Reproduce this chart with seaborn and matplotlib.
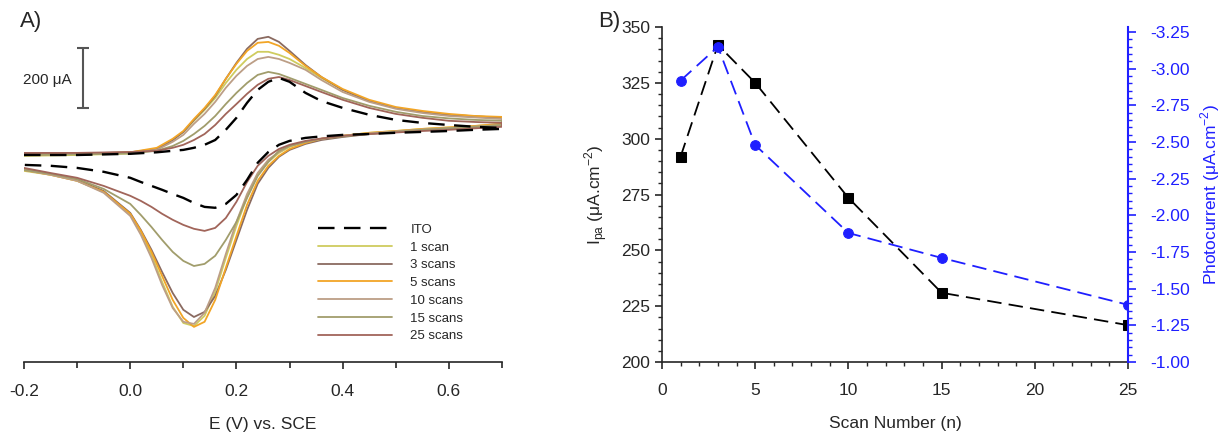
import numpy as np
import pandas as pd
import matplotlib
matplotlib.use("Agg")
import matplotlib.pyplot as plt
from matplotlib.ticker import MultipleLocator, FormatStrFormatter
import seaborn as sns

sns.set_style("ticks")
plt.rcParams['font.family'] = ['Liberation Sans', 'DejaVu Sans']
plt.rcParams['mathtext.fontset'] = 'custom'
plt.rcParams['mathtext.rm'] = 'Liberation Sans'
plt.rcParams['axes.unicode_minus'] = False

# ---- A) cyclic voltammograms, potential (V) and current (uA, arbitrary zero)
e_fwd = [-0.2, -0.1, 0.0, 0.05, 0.08, 0.1, 0.12, 0.14, 0.16, 0.18, 0.2, 0.22, 0.24,
         0.26, 0.28, 0.30, 0.33, 0.36, 0.4, 0.45, 0.5, 0.55, 0.6, 0.65, 0.7]
e_rev = [0.7, 0.65, 0.6, 0.55, 0.5, 0.45, 0.4, 0.36, 0.33, 0.30, 0.28, 0.26, 0.24, 0.22,
         0.20, 0.18, 0.16, 0.14, 0.12, 0.10, 0.08, 0.06, 0.04, 0.02, 0.0, -0.05, -0.1, -0.15, -0.2]

ito_fwd = [-17, -17, -13, -8, -3, 0, 7, 17, 33, 67, 107, 157, 200, 227, 240, 227, 190, 163,
           140, 117, 100, 90, 83, 77, 73]
ito_rev = [70, 67, 63, 60, 57, 53, 50, 45, 40, 30, 17, -7, -43, -100, -150, -180, -193, -190,
           -177, -160, -147, -133, -120, -107, -93, -73, -60, -53, -50]
scan1_fwd = [-20, -17, -12, 3, 33, 60, 97, 133, 173, 223, 267, 303, 327, 327, 317, 303, 273,
             240, 200, 163, 140, 127, 117, 112, 107]
scan1_rev = [87, 80, 75, 70, 63, 57, 47, 37, 27, 10, -10, -40, -83, -157, -253, -360, -473,
             -553, -587, -577, -523, -440, -350, -273, -213, -140, -103, -83, -70]
scan3_fwd = [-13, -12, -8, 3, 33, 60, 100, 137, 180, 237, 290, 337, 370, 377, 360, 330, 283,
             243, 200, 163, 140, 127, 117, 112, 107]
scan3_rev = [83, 77, 72, 67, 60, 53, 43, 33, 20, 0, -23, -60, -113, -200, -300, -400, -487,
             -540, -557, -533, -477, -407, -333, -267, -210, -137, -100, -80, -63]
scan5_fwd = [-17, -13, -8, 7, 37, 63, 103, 140, 183, 237, 287, 330, 357, 360, 347, 323, 280,
             243, 203, 167, 143, 130, 120, 113, 110]
scan5_rev = [87, 80, 75, 70, 63, 57, 47, 37, 23, 3, -20, -53, -103, -183, -287, -393, -500,
             -573, -590, -560, -500, -420, -340, -270, -213, -140, -103, -83, -67]
scan10_fwd = [-17, -13, -10, 0, 27, 50, 87, 120, 160, 207, 247, 280, 303, 310, 303, 290, 267,
              233, 193, 160, 137, 123, 113, 108, 103]
scan10_rev = [83, 78, 73, 68, 62, 55, 47, 37, 27, 13, -7, -33, -77, -147, -240, -347, -460,
              -543, -580, -573, -527, -450, -360, -283, -220, -143, -103, -83, -67]
scan15_fwd = [-17, -15, -12, -3, 13, 30, 53, 80, 113, 153, 190, 223, 250, 260, 253, 240, 220,
              200, 173, 147, 127, 113, 105, 100, 97]
scan15_rev = [83, 77, 72, 67, 60, 53, 45, 37, 27, 13, -3, -40, -87, -160, -240, -300, -353,
              -380, -387, -370, -340, -300, -257, -217, -180, -130, -97, -80, -67]
scan25_fwd = [-10, -10, -7, -3, 7, 17, 33, 53, 83, 120, 153, 187, 217, 237, 243, 233, 213,
              193, 167, 140, 120, 107, 97, 93, 90]
scan25_rev = [77, 72, 67, 63, 58, 53, 47, 38, 30, 17, 3, -20, -53, -107, -173, -227, -260,
              -270, -263, -250, -233, -213, -190, -170, -153, -120, -93, -77, -60]

cv_labels = ['ITO', '1 scan', '3 scans', '5 scans', '10 scans', '15 scans', '25 scans']
cv_colors = ['black', '#cfcc5e', '#8a6a60', '#f2a526', '#bc9e86', '#a19d6c', '#a1655a']
cv_fwd = [ito_fwd, scan1_fwd, scan3_fwd, scan5_fwd, scan10_fwd, scan15_fwd, scan25_fwd]
cv_rev = [ito_rev, scan1_rev, scan3_rev, scan5_rev, scan10_rev, scan15_rev, scan25_rev]

# ---- B) peak current and photocurrent vs number of scans
scans = [1, 3, 5, 10, 15, 25]
ipa = [292, 342, 325, 273.5, 231, 216.5]
photocurrent = [-2.92, -3.15, -2.48, -1.88, -1.71, -1.39]

blue = '#1f1fff'
fig = plt.figure(figsize=(12.32, 4.34), dpi=100)
axa = fig.add_axes([24 / 1232, 72 / 434, 478 / 1232, 342 / 434])
axb = fig.add_axes([662 / 1232, 72 / 434, 466 / 1232, 335 / 434])

# panel A
for lab, col, fw, rv in zip(cv_labels, cv_colors, cv_fwd, cv_rev):
    df = pd.DataFrame({'E': e_fwd + e_rev, 'I': fw + rv})
    if lab == 'ITO':
        sns.lineplot(data=df, x='E', y='I', sort=False, estimator=None, ax=axa,
                     color=col, lw=1.7, linestyle=(0, (7, 4)), label=lab, zorder=5)
    else:
        sns.lineplot(data=df, x='E', y='I', sort=False, estimator=None, ax=axa,
                     color=col, lw=1.3, label=lab)

axa.set_xlim(-0.2, 0.7)
axa.set_ylim(-707, 433)
axa.xaxis.set_major_locator(MultipleLocator(0.2))
axa.xaxis.set_minor_locator(MultipleLocator(0.1))
axa.xaxis.set_major_formatter(FormatStrFormatter('%.1f'))
axa.set_yticks([])
axa.set_ylabel('')
axa.set_xlabel('E (V) vs. SCE', fontsize=12.5, labelpad=13)
sns.despine(ax=axa, left=True, top=True, right=True)
axa.tick_params(axis='x', which='major', length=5, width=1.2, labelsize=12.5, pad=11)
axa.tick_params(axis='x', which='minor', length=4, width=1.2)
axa.spines['bottom'].set_linewidth(1.2)

# 200 uA scale bar
axa.errorbar([-0.089], [240], yerr=[100], color='#555555', capsize=4, lw=1.5,
             capthick=1.5, fmt='none')
axa.text(-0.11, 233, '200 μA', fontsize=11, ha='right', va='center')

axa.legend(loc='upper left', bbox_to_anchor=(0.615, 0.405), frameon=False,
           fontsize=9.5, handlelength=5.6, handletextpad=1.4, labelspacing=0.42,
           borderpad=0, borderaxespad=0)

# panel B
sns.lineplot(x=scans, y=ipa, ax=axb, color='black', marker='s', markersize=7,
             markeredgecolor='black', lw=1.3, linestyle=(0, (8, 4)), zorder=3)
axb.set_xlim(0, 25)
axb.set_ylim(200, 350)
axb.xaxis.set_major_locator(MultipleLocator(5))
axb.xaxis.set_minor_locator(MultipleLocator(1))
axb.yaxis.set_major_locator(MultipleLocator(25))
axb.yaxis.set_minor_locator(MultipleLocator(5))
axb.set_xlabel('Scan Number (n)', fontsize=12.5, labelpad=13)
axb.set_ylabel('I$_{\\mathrm{pa}}$ (μA.cm$^{-2}$)', fontsize=12.5, labelpad=8)
axb.tick_params(which='major', length=5, width=1.2, labelsize=12.5)
axb.tick_params(which='minor', length=3, width=1)
axb.tick_params(axis='x', pad=10)
sns.despine(ax=axb, top=True, right=True)
for s in ['left', 'bottom']:
    axb.spines[s].set_linewidth(1.2)

axb2 = axb.twinx()
sns.lineplot(x=scans, y=photocurrent, ax=axb2, color=blue, marker='o', markersize=7,
             markeredgecolor=blue, lw=1.3, linestyle=(0, (8, 4)), zorder=3)
axb2.set_ylim(-1.0, -3.285)
axb2.yaxis.set_major_locator(MultipleLocator(0.25))
axb2.yaxis.set_minor_locator(MultipleLocator(0.05))
axb2.yaxis.set_major_formatter(FormatStrFormatter('%.2f'))
axb2.set_ylabel('Photocurrent (μA.cm$^{-2}$)', fontsize=12.5, color=blue, labelpad=6)
axb2.tick_params(axis='y', which='major', length=6, width=1.2, colors=blue,
                 labelsize=12.5, pad=10)
axb2.tick_params(axis='y', which='minor', length=3, width=1, colors=blue)
for s in ['left', 'top', 'bottom']:
    axb2.spines[s].set_visible(False)
axb2.spines['right'].set_color(blue)
axb2.spines['right'].set_linewidth(1.5)

fig.text(20 / 1232, 1 - 22 / 434, 'A)', fontsize=16, va='center')
fig.text(598 / 1232, 1 - 22 / 434, 'B)', fontsize=16, va='center')

fig.savefig('out.png', dpi=100)
